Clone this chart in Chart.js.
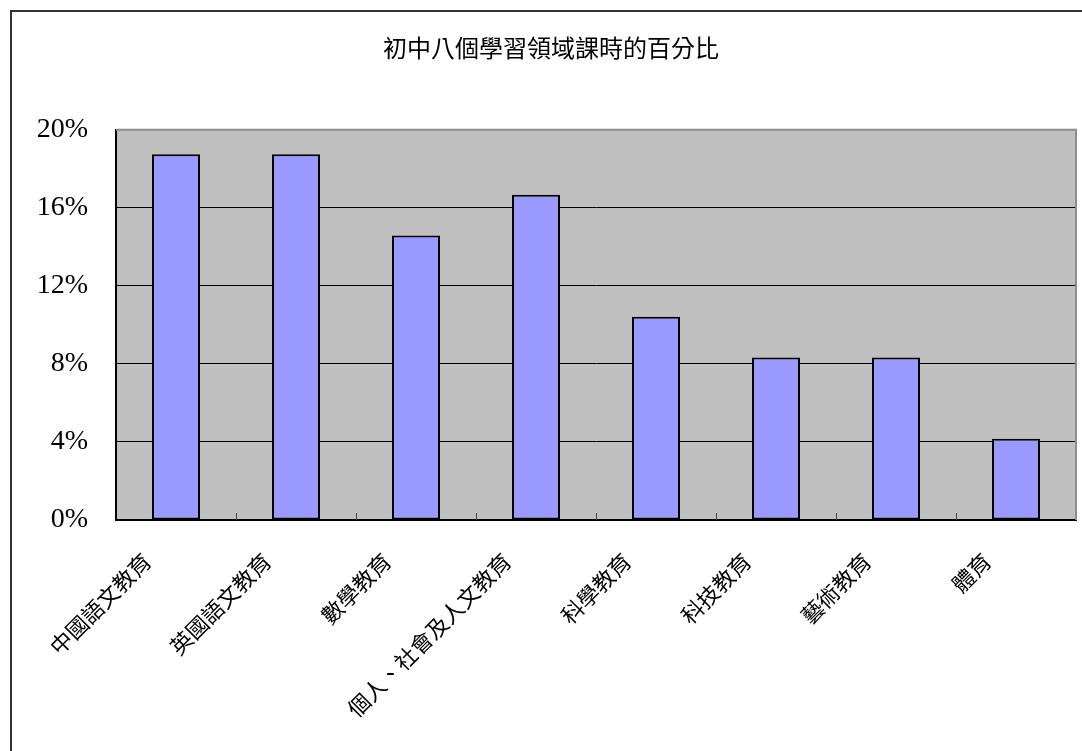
<!DOCTYPE html>
<html>
<head>
<meta charset="utf-8">
<script src="https://cdn.jsdelivr.net/npm/chart.js@4/dist/chart.umd.min.js"></script>
<style>
  html, body { margin: 0; padding: 0; background: #fff; }
  #wrap { position: relative; width: 1082px; height: 751px; }
</style>
</head>
<body>
<div id="wrap"><canvas id="myChart"></canvas></div>
<script>
const chartTitle = '初中八個學習領域課時的百分比';
const categories = ['中國語文教育', '英國語文教育', '數學教育', '個人、社會及人文教育', '科學教育', '科技教育', '藝術教育', '體育'];
const shares = [18.75, 18.75, 14.58, 16.67, 10.42, 8.33, 8.33, 4.17];
const yTicks = [0, 4, 8, 12, 16, 20];

// grey plot area, outer frame, inside tick marks
const decor = {
    id: 'decor',
    beforeDraw(chart) {
        const c = chart.ctx;
        const a = chart.chartArea;
        c.save();
        c.fillStyle = '#c0c0c0';
        c.fillRect(a.left, a.top, a.right - a.left, a.bottom - a.top);
        // outer frame (only left and top edges are visible)
        c.strokeStyle = '#333';
        c.lineWidth = 2;
        c.beginPath();
        c.moveTo(11, chart.height);
        c.lineTo(11, 11);
        c.lineTo(chart.width, 11);
        c.stroke();
        c.restore();
    },
    afterDatasetsDraw(chart) {
        const c = chart.ctx;
        const a = chart.chartArea;
        const xs = chart.scales.x;
        c.save();
        c.strokeStyle = '#8c8c8c';
        c.lineWidth = 2;
        c.beginPath();
        c.moveTo(a.left, a.top);
        c.lineTo(a.right, a.top);
        c.lineTo(a.right, a.bottom);
        c.stroke();
        c.strokeStyle = '#444';
        c.lineWidth = 1;
        c.beginPath();
        for (let i = 1; i < categories.length; i++) {
            const x = Math.round((xs.getPixelForValue(i - 1) + xs.getPixelForValue(i)) / 2) + 0.5;
            c.moveTo(x, a.bottom);
            c.lineTo(x, a.bottom - 7);
        }
        c.stroke();
        c.restore();
    }
};

const ctx = document.getElementById('myChart').getContext('2d');
new Chart(ctx, {
    type: 'bar',
    data: {
        labels: categories,
        datasets: [{
            data: shares,
            backgroundColor: '#9999ff',
            borderColor: '#000',
            borderWidth: 2,
            borderSkipped: false,
            barPercentage: 0.4,
            categoryPercentage: 1
        }]
    },
    options: {
        responsive: true,
        maintainAspectRatio: false,
        animation: false,
        layout: { padding: { left: 26, right: 6, top: 0, bottom: 0 } },
        plugins: {
            legend: { display: false },
            tooltip: { enabled: false },
            title: {
                display: true,
                text: chartTitle,
                color: '#000',
                font: { family: '"Noto Sans CJK TC", sans-serif', size: 24, weight: 'normal' },
                padding: { top: 33, bottom: 68 }
            }
        },
        scales: {
            x: {
                afterFit: s => { s.height = 231; },
                grid: { display: false },
                border: { color: '#000', width: 2 },
                ticks: {
                    autoSkip: false,
                    maxRotation: 45,
                    minRotation: 45,
                    labelOffset: -29,
                    padding: 20,
                    color: '#000',
                    font: { family: '"Noto Sans CJK TC", sans-serif', size: 22 }
                }
            },
            y: {
                min: 0,
                max: 20,
                afterFit: s => { s.width = 90; },
                afterBuildTicks: s => { s.ticks = yTicks.map(v => ({ value: v })); },
                grid: {
                    color: g => g.tick.value === 20 ? 'rgba(0,0,0,0)' : '#000',
                    lineWidth: 1,
                    drawTicks: false
                },
                border: { color: '#000', width: 2 },
                ticks: {
                    padding: 28,
                    color: '#000',
                    font: { family: '"Liberation Serif", "Times New Roman", serif', size: 28 },
                    callback: v => v + '%'
                }
            }
        }
    },
    plugins: [decor]
});
</script>
</body>
</html>
